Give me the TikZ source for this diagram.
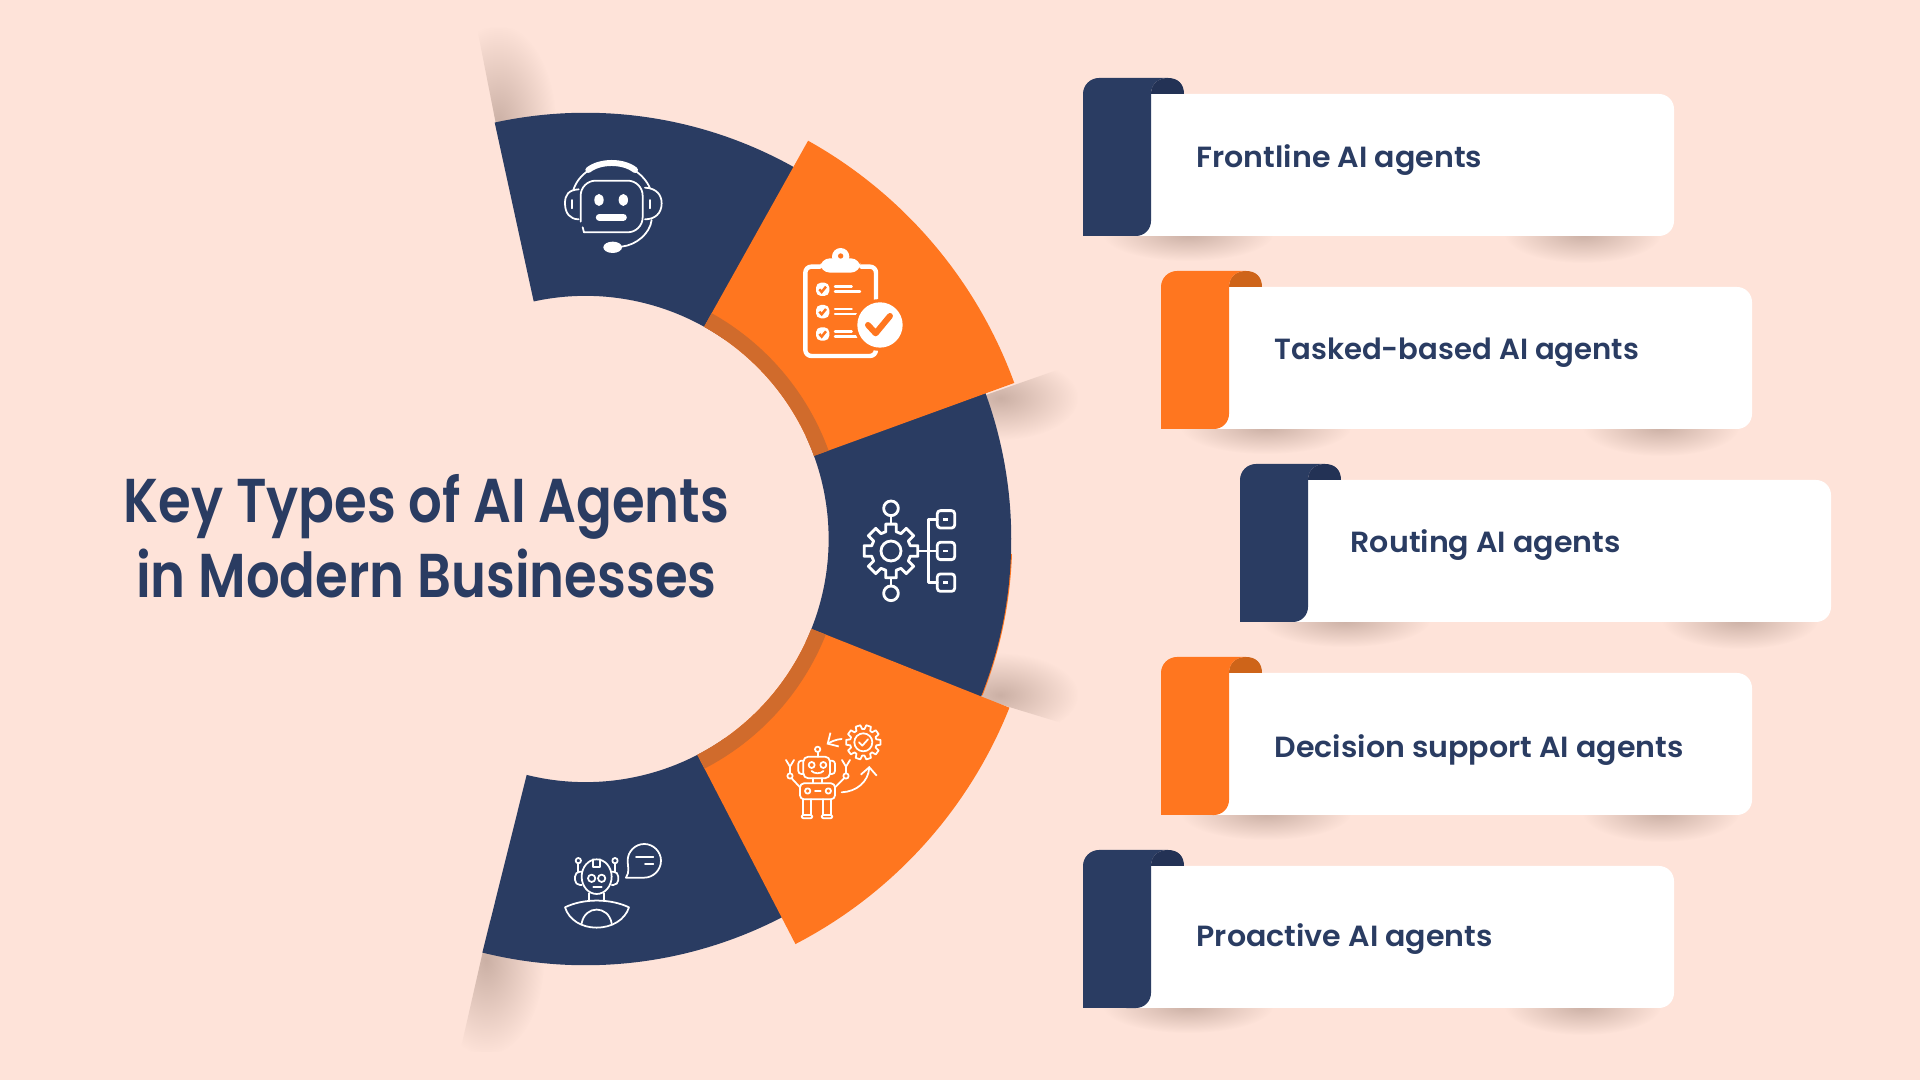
\documentclass[tikz,border=0pt]{standalone}
\usepackage{fontspec}
\usetikzlibrary{calc,fadings,arrows.meta}
\newfontfamily\titlefont{Poppins SemiBold}[FakeStretch=0.855]
\newfontfamily\cardfont{Poppins SemiBold}[FakeStretch=1.03]

\definecolor{bgC}{HTML}{FEE3D9}
\definecolor{navyC}{HTML}{2A3C62}
\definecolor{navydarkC}{HTML}{233255}
\definecolor{orangeC}{HTML}{FF761F}
\definecolor{orangedarkC}{HTML}{CE6419}
\definecolor{bandC}{HTML}{D06B2C}
\definecolor{shadowC}{HTML}{CBB0A5}

\tikzfading[name=softfade, inner color=transparent!0, outer color=transparent!100]

\tikzset{
    cardtext/.style={font=\cardfont\fontsize{8.3}{10}\selectfont, text=navyC, anchor=base west, inner sep=0pt},
    titletext/.style={font=\titlefont\fontsize{17.6}{21.3}\selectfont, text=navyC, align=center, inner sep=0pt},
    softshadow/.style={fill=shadowC, path fading=softfade},
    iconline/.style={draw=white, line width=0.5pt, line cap=round, line join=round},
    iconmid/.style={draw=white, line width=0.8pt, line cap=round, line join=round},
    iconbold/.style={draw=white, line width=1pt, line cap=round, line join=round},
}

% ring piece: inner radius, outer radius, start angle, end angle, colour
\newcommand{\ringpart}[5]{
    \fill[#5] ($(hub)+(#3:#1)$) arc[start angle=#3, end angle=#4, radius=#1]
        -- ($(hub)+(#4:#2)$) arc[start angle=#4, end angle=#3, radius=#2] -- cycle;
}

% card: left, top, flap colour, tab colour
\newcommand{\agentcard}[4]{
    \begin{scope}[shift={(#1,#2)}]
        \begin{scope}
            \clip (0,158) rectangle (591,200);
            \fill[softshadow] (105,156) ellipse[x radius=85, y radius=27];
            \fill[softshadow] (500,156) ellipse[x radius=78, y radius=29];
        \end{scope}
        \fill[white, rounded corners=1.5mm] (40,16) rectangle (591,158);
        \fill[#4] (68,16) .. controls (68,6) and (75,0) .. (85,0) .. controls (95,0) and (101,6) .. (101,16) -- cycle;
        \fill[#3] (0,158) -- (0,16) arc[start angle=180, end angle=90, radius=1.6mm] -- (85,0)
            .. controls (75,0) and (68,6) .. (68,16) -- (68,143) arc[start angle=0, end angle=-90, radius=1.5mm] -- cycle;
    \end{scope}
}

\begin{document}
\begin{tikzpicture}[x=0.01cm, y=-0.01cm]

    \useasboundingbox (0,0) rectangle (1920,1080);
    \fill[bgC] (0,0) rectangle (1920,1080);

    \coordinate (hub) at (585.5,539);

    % shadows behind the ring
    \begin{scope}
        \clip (477,28) -- (503,160) -- (620,160) -- (620,28) -- cycle;
        \fill[softshadow] (498,125) ellipse[x radius=58, y radius=100];
    \end{scope}
    \begin{scope}
        \clip (1080,362) -- (960,404) -- (960,480) -- (1080,480) -- cycle;
        \fill[softshadow] (1000,398) ellipse[x radius=78, y radius=42];
    \end{scope}
    \begin{scope}
        \clip (1078,728) -- (960,692) -- (960,620) -- (1078,620) -- cycle;
        \fill[softshadow] (1000,695) ellipse[x radius=78, y radius=42];
    \end{scope}
    \begin{scope}
        \clip (460,1052) -- (490,920) -- (620,920) -- (620,1052) -- cycle;
        \fill[softshadow] (486,960) ellipse[x radius=58, y radius=95];
    \end{scope}

    % ring
    \ringpart{4.2cm}{4.265cm}{-21.5}{-2}{orangeC}
    \ringpart{2.43cm}{4.26cm}{102.3}{55}{navyC}
    \ringpart{2.43cm}{4.255cm}{25}{-25}{navyC}
    \ringpart{2.43cm}{4.26cm}{-55}{-104}{navyC}
    \ringpart{2.43cm}{4.56cm}{60.8}{20}{orangeC}
    \ringpart{2.43cm}{2.585cm}{60.8}{20}{bandC}
    \ringpart{2.43cm}{4.56cm}{-21.7}{-62.6}{orangeC}
    \ringpart{2.43cm}{2.585cm}{-21.7}{-62.6}{bandC}

    % title
    \node[titletext] (title) at (426.5,536) {Key Types of AI Agents\\in Modern Businesses};

    % cards
    \agentcard{1083}{78}{navyC}{navydarkC}
    \agentcard{1161}{271}{orangeC}{orangedarkC}
    \agentcard{1240}{464}{navyC}{navydarkC}
    \agentcard{1161}{657}{orangeC}{orangedarkC}
    \agentcard{1083}{850}{navyC}{navydarkC}

    \node[cardtext] (frontline) at (1196,168) {Frontline AI agents};
    \node[cardtext, xscale=0.97] (tasked) at (1274,360) {Tasked-based AI agents};
    \node[cardtext] (routing) at (1350,553) {Routing AI agents};
    \node[cardtext] (decision) at (1274,758) {Decision support AI agents};
    \node[cardtext] (proactive) at (1196,947) {Proactive AI agents};

    % headset robot
    \begin{scope}[shift={(540,140)}, scale=0.3333]
        \draw[iconline, line width=1.7pt] (145,90) .. controls (180,62) and (250,62) .. (285,90);
        \draw[iconline] (100,150) .. controls (108,125) and (125,105) .. (145,92);
        \draw[iconline] (285,92) .. controls (305,105) and (322,125) .. (330,145);
        \draw[iconline, rounded corners=1.5mm] (122,245) -- (122,122) -- (308,122) -- (308,277) -- (132,277);
        \draw[iconline] (132,277) -- (128,262);
        \draw[iconline] (116,148) .. controls (85,150) and (75,165) .. (75,190) .. controls (75,220) and (90,238) .. (116,238);
        \draw[iconline] (315,143) .. controls (350,145) and (365,165) .. (365,190) .. controls (365,220) and (345,238) .. (315,238);
        \draw[iconline] (95,180) -- (95,205);
        \draw[iconline] (331,180) -- (331,205);
        \fill[white] (177,180) ellipse[x radius=14, y radius=18];
        \fill[white] (250,180) ellipse[x radius=14, y radius=18];
        \draw[iconline, line width=2pt] (178,232) -- (250,232);
        \fill[white] (218,322) ellipse[x radius=28, y radius=17];
        \draw[iconline] (245,320) .. controls (290,315) and (330,280) .. (335,240);
    \end{scope}

    % clipboard
    \begin{scope}[shift={(780,230)}, scale=0.3333]
        \draw[iconbold, line width=1.25pt, rounded corners=0.6mm] (120,110) -- (76,110) -- (76,378) -- (288,378) -- (288,110) -- (244,110);
        \fill[white, rounded corners=1mm] (120,128) -- (120,85) -- (242,85) -- (242,128) -- cycle;
        \fill[white] (182,80) circle[radius=26];
        \fill[orangeC] (182,78) circle[radius=8];
        \foreach \i in {158,225,292}{
            \fill[white, rounded corners=0.5mm] (108,\i) rectangle (148,\i+40);
            \draw[orangeC, line width=0.7pt] (118,\i+20) -- (125,\i+28) -- (138,\i+12);
            \draw[iconline, line width=0.7pt] (165,\i+12) -- (215,\i+12);
            \draw[iconline, line width=0.7pt] (165,\i+27) -- (240,\i+27);
        }
        \fill[orangeC] (300,285) circle[radius=78];
        \fill[white] (300,285) circle[radius=68];
        \draw[orangeC, line width=1.7pt, line cap=round, line join=round] (264,285) -- (287,310) -- (330,258);
    \end{scope}

    % gear with tree
    \begin{scope}[shift={(850,490)}, scale=0.3333]
        \draw[iconmid, shift={(123,183)}] (-15:60) \foreach \a in {0,45,...,315}{ -- (\a-15:60) -- (\a-11:82) -- (\a+11:82) -- (\a+15:60)} -- cycle;
        \draw[iconmid] (123,183) circle[radius=30];
        \draw[iconmid] (123,55) circle[radius=22];
        \draw[iconmid] (123,310) circle[radius=22];
        \draw[iconmid] (123,77) -- (123,101);
        \draw[iconmid] (123,265) -- (123,288);
        \draw[iconmid] (205,183) -- (261,183);
        \draw[iconmid] (262,88) -- (235,88) -- (235,278) -- (262,278);
        \foreach \i in {88,183,278}{
            \draw[iconmid, rounded corners=0.3mm] (262,\i-26) rectangle (314,\i+26);
            \fill[white] (280,\i-4) rectangle (294,\i+4);
        }
    \end{scope}

    % robot with gear
    \begin{scope}[shift={(770,710)}, scale=0.3333]
        \draw[iconline, shift={(280,97)}] (-13:40) \foreach \a in {0,36,...,324}{ -- (\a-13:40) -- (\a-8:52) -- (\a+8:52) -- (\a+13:40)} -- cycle;
        \draw[iconline] (280,97) circle[radius=27];
        \draw[iconline] (267,97) -- (277,107) -- (294,88);
        \draw[iconline, -{Straight Barb[length=0.8mm,width=1.6mm]}] (215,87) .. controls (200,88) and (185,94) .. (170,103);
        \draw[iconline, -{Straight Barb[length=0.8mm,width=1.6mm]}] (215,247) .. controls (260,245) and (295,215) .. (298,168);
        \draw[iconline, rounded corners=0.5mm] (100,140) rectangle (180,205);
        \draw[iconline, rounded corners=0.3mm] (100,152) -- (85,152) -- (85,192) -- (100,192);
        \draw[iconline, rounded corners=0.3mm] (180,152) -- (195,152) -- (195,192) -- (180,192);
        \draw[iconline] (143,118) circle[radius=8];
        \draw[iconline] (143,126) -- (143,140);
        \draw[iconline] (125,165) circle[radius=9];
        \draw[iconline] (160,165) circle[radius=9];
        \draw[iconline] (125,183) .. controls (132,192) and (153,192) .. (160,183);
        \draw[iconline] (130,205) -- (130,220);
        \draw[iconline] (155,205) -- (155,220);
        \draw[iconline, rounded corners=0.4mm] (90,220) rectangle (195,268);
        \draw[iconline] (113,243) circle[radius=8];
        \draw[iconline] (175,243) circle[radius=8];
        \draw[iconline] (135,243) -- (152,243);
        \draw[iconline] (90,232) -- (65,205);
        \draw[iconline] (195,232) -- (222,205);
        \draw[iconline] (60,198) circle[radius=8];
        \draw[iconline] (228,198) circle[radius=8];
        \draw[iconline] (60,190) -- (60,170) -- (48,150);
        \draw[iconline] (60,170) -- (72,150);
        \draw[iconline] (228,190) -- (228,170) -- (216,150);
        \draw[iconline] (228,170) -- (240,150);
        \draw[iconline] (100,268) -- (100,315);
        \draw[iconline] (122,268) -- (122,315);
        \draw[iconline] (160,268) -- (160,315);
        \draw[iconline] (182,268) -- (182,315);
        \draw[iconline, rounded corners=0.2mm] (95,325) rectangle (127,315);
        \draw[iconline, rounded corners=0.2mm] (155,325) rectangle (187,315);
    \end{scope}

    % robot with speech bubble
    \begin{scope}[shift={(550,830)}, scale=0.3333]
        \draw[iconline] (140,140) ellipse[x radius=45, y radius=52];
        \draw[iconline] (130,88) -- (130,110) -- (150,110) -- (150,88);
        \draw[iconline] (125,145) circle[radius=11];
        \draw[iconline] (155,145) circle[radius=11];
        \draw[iconline] (130,172) -- (155,172);
        \draw[iconline, rounded corners=0.5mm] (95,125) -- (75,125) -- (75,165) -- (95,165);
        \draw[iconline, rounded corners=0.5mm] (185,125) -- (205,125) -- (205,165) -- (185,165);
        \draw[iconline] (85,92) circle[radius=8];
        \draw[iconline] (195,92) circle[radius=8];
        \draw[iconline] (85,100) -- (85,125);
        \draw[iconline] (195,100) -- (195,125);
        \draw[iconline] (118,190) -- (118,213);
        \draw[iconline] (162,190) -- (162,213);
        \draw[iconline] (45,232) .. controls (100,205) and (180,205) .. (237,232) .. controls (225,270) and (185,293) .. (140,293) .. controls (95,293) and (57,270) .. (45,232) -- cycle;
        \draw[iconline] (95,280) .. controls (105,225) and (175,225) .. (185,280);
        \draw[iconline] (228,143) -- (258,143) .. controls (265,143) and (275,143) .. (283,143) .. controls (310,143) and (333,120) .. (333,92) .. controls (333,65) and (310,42) .. (283,42) .. controls (255,42) and (233,65) .. (233,92) .. controls (233,110) and (240,125) .. (228,143) -- cycle;
        \draw[iconline] (258,80) -- (310,80);
        \draw[iconline] (285,103) -- (310,103);
    \end{scope}

\end{tikzpicture}
\end{document}
